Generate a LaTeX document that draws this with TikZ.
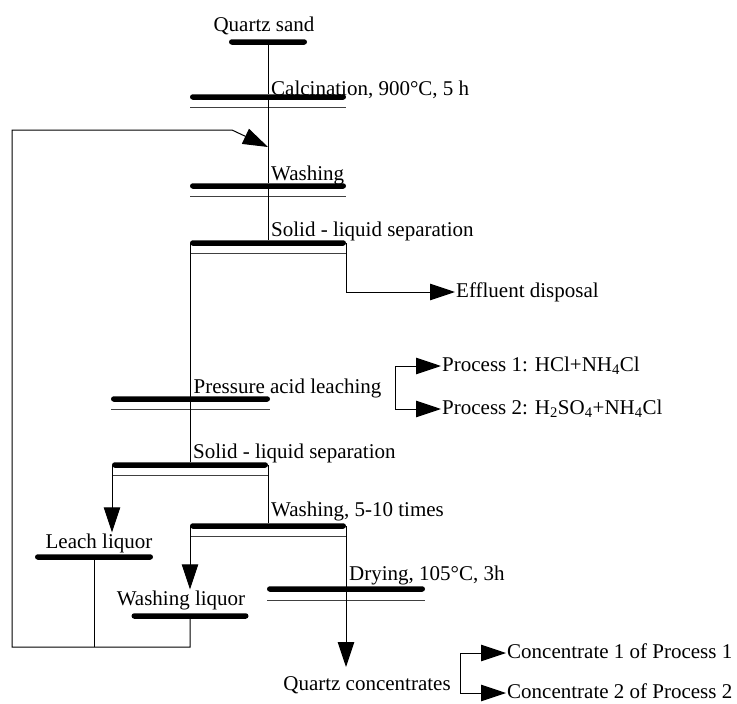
\documentclass[tikz,border=0pt]{standalone}
\usepackage{fontspec}
\setmainfont{Liberation Serif}
\usetikzlibrary{arrows.meta,positioning}
\tikzset{
  bar/.style={fill=black,rounded corners=2.75pt,minimum height=5.5pt,inner sep=0pt,outer sep=0pt},
  sieve/.style={line width=1pt,color=black!75},
  pipe/.style={line width=1pt},
  feed/.style={pipe,-{Triangle[length=25pt,width=16.5pt]}},
  lbl/.style={font=\fontsize{21}{25}\selectfont,inner sep=1pt,text height=14.5pt,text depth=4.5pt},
}

\begin{document}
\begin{tikzpicture}[x=1pt,y=-1pt]
\useasboundingbox (0,0) rectangle (737,704);
\node[bar,minimum width=78pt] (sand) at (268,42) {};
\node[bar,minimum width=156pt] (calc) at (268,97) {};
\node[bar,minimum width=156pt] (wsh) at (268,186) {};
\node[bar,minimum width=156pt] (sep) at (268,243) {};
\node[bar,minimum width=159pt] (pal) at (190.5,399) {};
\node[bar,minimum width=156pt] (sep2) at (190,465) {};
\node[bar,minimum width=156pt] (wsh2) at (268,526) {};
\node[bar,minimum width=158pt] (dry) at (346,589) {};
\node[bar,minimum width=118pt] (leach) at (94,557) {};
\node[bar,minimum width=117pt] (wliq) at (190,616) {};
\draw[sieve] ([yshift=-10pt]calc.west)--([yshift=-10pt]calc.east); \draw[sieve] ([yshift=-10pt]wsh.west)--([yshift=-10pt]wsh.east);
\draw[sieve] ([yshift=-10pt]sep.west)--([yshift=-10pt]sep.east); \draw[sieve] ([yshift=-10pt]pal.west)--([yshift=-10pt]pal.east);
\draw[sieve] ([yshift=-10pt]sep2.west)--([yshift=-10pt]sep2.east); \draw[sieve] ([yshift=-10pt]wsh2.west)--([yshift=-10pt]wsh2.east);
\draw[sieve] ([yshift=-11pt]dry.west)--([yshift=-11pt]dry.east);
\node[lbl,above left=11pt and 4pt of sand.center,anchor=base] (sandt) {Quartz sand};
\node[lbl,above right=2pt and 2pt of calc.center,anchor=base west] (calct) {Calcination, 900°C, 5 h};
\node[lbl,above right=6pt and 2pt of wsh.center,anchor=base west] (wsht) {Washing};
\node[lbl,above right=7pt and 2pt of sep.center,anchor=base west] (sept) {Solid - liquid separation};
\node[lbl,above right=6pt and 2pt of pal.center,anchor=base west] (palt) {Pressure acid leaching};
\node[lbl,above right=7pt and 2pt of sep2.center,anchor=base west] (sep2t) {Solid - liquid separation};
\node[lbl,above right=10pt and 2pt of wsh2.center,anchor=base west] (wsh2t) {Washing, 5-10 times};
\node[lbl,above right=9pt and 2pt of dry.center,anchor=base west] (dryt) {Drying, 105°C, 3h};
\node[lbl,above right=9pt and 5pt of leach.center,anchor=base] (leacht) {Leach liquor};
\node[lbl,above left=11pt and 9pt of wliq.center,anchor=base] (wliqt) {Washing liquor};
\node[lbl,anchor=base] (qc) at (367,690) {Quartz concentrates};
\node[lbl,anchor=west] (eff) at (455,292) {Effluent disposal};
\node[lbl,anchor=west] (p1) at (441,366) {Process 1: HCl+NH\textsubscript{4}Cl};
\node[lbl,anchor=west] (p2) at (441,409) {Process 2: H\textsubscript{2}SO\textsubscript{4}+NH\textsubscript{4}Cl};
\node[lbl,anchor=west] (c1) at (506,653) {Concentrate 1 of Process 1};
\node[lbl,anchor=west] (c2) at (506,693) {Concentrate 2 of Process 2};
\coordinate (brk) at (395,388);
\coordinate (qbrk) at (460,673);
\coordinate (qin) at (346,667);
\coordinate (rin) at (268,147);
\coordinate (rbend) at (232,130);
\coordinate (rbot) at (12,647);
\draw[pipe] (sand)--(calc); \draw[pipe] (calc)--(wsh); \draw[pipe] (wsh)--(sep);
\draw[pipe] (sep.west)--(sep2);
\draw[feed] (sep.east)|-(eff.west);
\draw[feed] (brk)|-(p1.west); \draw[feed] (brk)|-(p2.west);
\draw[feed] (sep2.west)--(sep2.west|-leacht.north);
\draw[pipe] (sep2.east)--(wsh2);
\draw[feed] (wsh2.west)--(wsh2.west|-wliqt.north);
\draw[feed] (wsh2.east)--(qin);
\draw[feed] (qbrk)|-(c1.west); \draw[feed] (qbrk)|-(c2.west);
\draw[feed] (wliq.center)--(wliq.center|-rbot)--(rbot)|-(rbend)--(rin);
\draw[pipe] (leach.center)--(leach.center|-rbot);
\end{tikzpicture}
\end{document}
